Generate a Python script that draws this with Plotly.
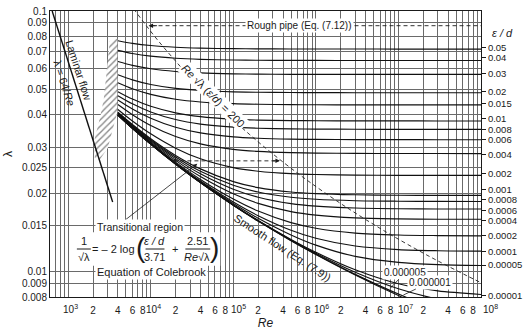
import math
import plotly.graph_objects as go

# ---------------- data ----------------
Re_grid = [4e3, 6e3, 1e4, 2e4, 4e4, 1e5, 2e5, 5e5, 1e6, 3e6, 1e7, 3e7, 1e8]

eps_labels = ["0.05", "0.04", "0.03", "0.02", "0.015", "0.01", "0.008", "0.006", "0.004",
              "0.002", "0.001", "0.0008", "0.0006", "0.0004", "0.0002", "0.0001",
              "0.00005", "0.00001", "0.000005", "0.000001", "smooth"]

lam_0_05 = [0.07690, 0.07516, 0.07371, 0.07260, 0.07204, 0.07169, 0.07158, 0.07151, 0.07148, 0.07147, 0.07146, 0.07146, 0.07146]
lam_0_04 = [0.07063, 0.06872, 0.06712, 0.06588, 0.06524, 0.06485, 0.06472, 0.06465, 0.06462, 0.06460, 0.06460, 0.06459, 0.06459]
lam_0_03 = [0.06402, 0.06187, 0.06005, 0.05861, 0.05787, 0.05742, 0.05726, 0.05717, 0.05714, 0.05712, 0.05711, 0.05711, 0.05711]
lam_0_02 = [0.05692, 0.05441, 0.05223, 0.05047, 0.04955, 0.04898, 0.04878, 0.04867, 0.04863, 0.04860, 0.04859, 0.04859, 0.04859]
lam_0_015 = [0.05311, 0.05034, 0.04789, 0.04587, 0.04479, 0.04411, 0.04388, 0.04374, 0.04369, 0.04366, 0.04365, 0.04365, 0.04365]
lam_0_01 = [0.04906, 0.04594, 0.04310, 0.04068, 0.03933, 0.03847, 0.03817, 0.03799, 0.03793, 0.03789, 0.03788, 0.03787, 0.03787]
lam_0_008 = [0.04736, 0.04406, 0.04101, 0.03835, 0.03684, 0.03586, 0.03552, 0.03531, 0.03524, 0.03519, 0.03517, 0.03517, 0.03517]
lam_0_006 = [0.04560, 0.04210, 0.03879, 0.03582, 0.03408, 0.03292, 0.03251, 0.03226, 0.03217, 0.03212, 0.03210, 0.03209, 0.03209]
lam_0_004 = [0.04378, 0.04003, 0.03639, 0.03300, 0.03093, 0.02948, 0.02895, 0.02862, 0.02851, 0.02843, 0.02840, 0.02840, 0.02839]
lam_0_002 = [0.04189, 0.03784, 0.03379, 0.02978, 0.02712, 0.02509, 0.02429, 0.02377, 0.02359, 0.02347, 0.02342, 0.02341, 0.02341]
lam_0_001 = [0.04091, 0.03669, 0.03238, 0.02794, 0.02480, 0.02217, 0.02102, 0.02022, 0.01993, 0.01973, 0.01965, 0.01963, 0.01963]
lam_0_0008 = [0.04071, 0.03646, 0.03209, 0.02755, 0.02428, 0.02147, 0.02021, 0.01930, 0.01896, 0.01872, 0.01864, 0.01861, 0.01860]
lam_0_0006 = [0.04051, 0.03622, 0.03179, 0.02715, 0.02374, 0.02072, 0.01931, 0.01825, 0.01784, 0.01755, 0.01744, 0.01741, 0.01740]
lam_0_0004 = [0.04031, 0.03598, 0.03149, 0.02674, 0.02318, 0.01990, 0.01829, 0.01700, 0.01648, 0.01609, 0.01595, 0.01590, 0.01589]
lam_0_0002 = [0.04011, 0.03574, 0.03119, 0.02632, 0.02259, 0.01900, 0.01709, 0.01543, 0.01468, 0.01407, 0.01383, 0.01376, 0.01373]
lam_0_0001 = [0.04001, 0.03562, 0.03104, 0.02610, 0.02228, 0.01851, 0.01641, 0.01443, 0.01344, 0.01255, 0.01216, 0.01204, 0.01199]
lam_0_00005 = [0.03996, 0.03556, 0.03096, 0.02599, 0.02213, 0.01826, 0.01604, 0.01384, 0.01265, 0.01145, 0.01086, 0.01065, 0.01057]
lam_0_00001 = [0.03992, 0.03552, 0.03090, 0.02590, 0.02200, 0.01804, 0.01572, 0.01330, 0.01187, 0.01017, 0.00899, 0.00844, 0.00818]
lam_0_000005 = [0.03991, 0.03551, 0.03089, 0.02589, 0.02199, 0.01802, 0.01568, 0.01323, 0.01176, 0.00995, 0.00860, 0.00786, 0.00747]
lam_0_000001 = [0.03991, 0.03550, 0.03088, 0.02589, 0.02197, 0.01800, 0.01565, 0.01317, 0.01167, 0.00977, 0.00821, 0.00718, 0.00643]
lam_smooth = [0.03991, 0.03550, 0.03088, 0.02588, 0.02197, 0.01799, 0.01564, 0.01316, 0.01165, 0.00972, 0.00810, 0.00695, 0.00594]

curve_lams = [lam_0_05, lam_0_04, lam_0_03, lam_0_02, lam_0_015, lam_0_01, lam_0_008, lam_0_006,
              lam_0_004, lam_0_002, lam_0_001, lam_0_0008, lam_0_0006, lam_0_0004, lam_0_0002,
              lam_0_0001, lam_0_00005, lam_0_00001, lam_0_000005, lam_0_000001, lam_smooth]

# right-hand eps/d labels and the lambda level at which each is printed
right_labels = eps_labels[:18]
right_label_lam = [0.0722, 0.0662, 0.0574, 0.0490, 0.0440, 0.0386, 0.0352, 0.03208, 0.02818,
                   0.02371, 0.02065, 0.01885, 0.01722, 0.01572, 0.01373, 0.01196, 0.01060, 0.00811]

# dashed boundary  Re*sqrt(lambda)*(eps/d) = 200
bound_Re = [4970, 6280, 8330, 11900, 19700, 27900, 45400, 63800, 103000, 156000, 230000, 412000,
            654000, 905000, 1.43e6, 2.13e6, 3.1e6, 5.46e6, 8.54e6, 1.83e7, 2.7e7, 3.9e7, 6.79e7, 1.05e8]
bound_lam = [0.11258, 0.10150, 0.09004, 0.07792, 0.06459, 0.05711, 0.04859, 0.04365, 0.03787, 0.03369,
             0.03034, 0.02615, 0.02340, 0.02171, 0.01962, 0.01802, 0.01669, 0.01493, 0.01372, 0.01197,
             0.01120, 0.01054, 0.00964, 0.00901]

# laminar line lambda = 64/Re
laminar_Re = [640, 3460]
laminar_lam = [0.1, 0.0185]

# hatched critical zone outline
hatch_Re = [3190, 3950, 3950, 3015, 2414, 2101, 2101, 2414, 2698, 2932]
hatch_lam = [0.0765, 0.0785, 0.0410, 0.0298, 0.0269, 0.0273, 0.0325, 0.0386, 0.0459, 0.0595]

# axis ticks
y_ticks = [0.008, 0.009, 0.01, 0.015, 0.02, 0.025, 0.03, 0.04, 0.05, 0.06, 0.07, 0.08, 0.09, 0.1]
y_tick_text = ["0.008", "0.009", "0.01", "0.015", "0.02", "0.025", "0.03", "0.04", "0.05",
               "0.06", "0.07", "0.08", "0.09", "0.1"]
x_decades = [2, 3, 4, 5, 6, 7]
x_mults = [1, 2, 3, 4, 5, 6, 7, 8, 9]
x_labeled_mults = {2: "2", 4: "4", 6: "6", 8: "8"}
decade_labels = [3, 4, 5, 6, 7, 8]
decade_label_shift = [2, 3, 5, 6, 7, 9]   # px: the printed powers of ten sit right of their grid line

# ---------------- layout geometry ----------------
W, H = 527, 334
ML, MR, MT, MB = 50, 44, 5, 37
PW, PH = W - ML - MR, H - MT - MB
XR = [2.78, 8.0]
YR = [math.log10(0.008), -1.0]
FONT = "Liberation Sans, Arial, sans-serif"
INK = "#1a1a1a"
GRID = "#6a6a6a"

def px(x): return (x - ML) / PW
def py(y): return (H - MB - y) / PH

x_ticks, x_tick_text, x_minor = [], [], []
for d in x_decades:
    for m in x_mults:
        v = m * 10 ** d
        if not (10 ** XR[0] <= v <= 10 ** XR[1]):
            continue
        if d >= 3 and m in x_labeled_mults:
            x_ticks.append(v)
            x_tick_text.append(x_labeled_mults[m])
        else:
            x_minor.append(v)

fig = go.Figure()

# hatched zone
fig.add_trace(go.Scatter(x=hatch_Re + hatch_Re[:1], y=hatch_lam + hatch_lam[:1], mode="lines",
                         fill="toself", fillcolor="rgba(0,0,0,0)", line=dict(width=0),
                         fillpattern=dict(shape="/", fgcolor="#111", bgcolor="white",
                                          size=4.5, solidity=0.3),
                         hoverinfo="skip"))

for lam in curve_lams:
    fig.add_trace(go.Scatter(x=Re_grid, y=lam, mode="lines",
                             line=dict(color="#111", width=1.15, shape="spline", smoothing=0.8),
                             hoverinfo="skip"))

fig.add_trace(go.Scatter(x=bound_Re, y=bound_lam, mode="lines",
                         line=dict(color="#222", width=0.9, dash="4px,3px", shape="spline"),
                         hoverinfo="skip"))
fig.add_trace(go.Scatter(x=laminar_Re, y=laminar_lam, mode="lines",
                         line=dict(color="#111", width=1.4), hoverinfo="skip"))
fig.add_trace(go.Scatter(x=[1e4], y=[0.05], yaxis="y2", mode="markers",
                         marker=dict(opacity=0), hoverinfo="skip"))

shapes = []
annotations = []

def text(t, x, y, size=11, angle=0, bg=None, **kw):
    d = dict(text=t, x=px(x), y=py(y), xref="paper", yref="paper", showarrow=False,
             xanchor="center", yanchor="middle", textangle=angle,
             font=dict(family=FONT, size=size, color=INK))
    if bg:
        d.update(bgcolor=bg, borderpad=1)
    d.update(kw)
    annotations.append(d)

def arrow(tipx, tipy, dx, dy, head=2, width=0.8, t="", size=10, bg=None):
    d = dict(text=t, x=px(tipx), y=py(tipy), xref="paper", yref="paper", showarrow=True,
             ax=dx, ay=dy, axref="pixel", ayref="pixel", arrowhead=head, arrowsize=1,
             arrowwidth=width, arrowcolor=INK, font=dict(family=FONT, size=size, color=INK))
    if bg:
        d.update(bgcolor=bg, borderpad=1)
    annotations.append(d)

def hline(x0, x1, y, dash=None, width=1):
    shapes.append(dict(type="line", xref="paper", yref="paper", x0=px(x0), x1=px(x1),
                       y0=py(y), y1=py(y), layer="above",
                       line=dict(color=INK, width=width, dash=dash)))

# powers of ten on the Re axis (positioned through the x axis)
for d, sh in zip(decade_labels, decade_label_shift):
    annotations.append(dict(text=f"10<sup>{d}</sup>", x=d, xref="x", y=py(301.5), yref="paper",
                            xanchor="center", yanchor="top", xshift=sh, showarrow=False,
                            font=dict(family=FONT, size=10, color=INK)))

# white panel behind the Colebrook equation
shapes.append(dict(type="rect", xref="paper", yref="paper", x0=px(74), x1=px(221),
                   y0=py(265), y1=py(231), layer="above", fillcolor="white",
                   line=dict(width=0)))

# laminar labels
text("Laminar flow", 79, 65, size=11, angle=72)
text("λ = 64/<i>Re</i>", 64, 79, size=11, angle=72)

# rough pipe arrow
hline(152, 483, 20, dash="4px,3px", width=0.9)
arrow(149, 20, 10, 0, head=2, width=0.9)
text("Rough pipe (Eq. (7.12))", 301, 20, size=10, bg="white")

# boundary label
text("<i>Re</i> √λ (<i>ε/d</i>) = 200", 214, 92, size=11, angle=45, bg="white")

# transitional double arrow (dashed)
hline(174, 279, 158, dash="4px,3px", width=0.9)
arrow(172, 158, 9, 0, head=2, width=0.9)
arrow(281, 158, -9, 0, head=2, width=0.9)
arrow(198, 161, -77, 60, head=2, width=0.8)

# smooth flow label
text("Smooth flow (Eq. (7.9))", 284, 247, size=11, angle=33)

# Colebrook equation block
text("Transitional region", 140, 226, size=10.5, bg="white")
text("Equation of Colebrook", 152, 271, size=11, bg="white")
text("1", 84, 240, size=11)
hline(77, 91, 248, width=1)
text("√λ", 84, 256, size=11)
text("= – 2 log", 114, 248, size=11)
text("(", 141, 246, size=28)
text("<i>ε / d</i>", 155, 240, size=11)
hline(146, 165, 248, width=1)
text("3.71", 155, 256, size=11)
text("+", 176, 248, size=11)
text("2.51", 198, 240, size=11)
hline(186, 211, 248, width=1)
text("<i>Re</i>√λ", 198, 256, size=11)
text(")", 215, 246, size=28)

# tiny eps/d labels inside the chart
arrow(392, 288, 15, -16, head=0, width=0.8, t="0.000005", size=10, bg="white")
arrow(405, 295, 27, -13, head=0, width=0.8, t="0.000001", size=10, bg="white")

# header of right axis
text("<i>ε / d</i>", 505, 27, size=11)

fig.update_layout(
    width=W, height=H, margin=dict(l=ML, r=MR, t=MT, b=MB, pad=0),
    showlegend=False, plot_bgcolor="white", paper_bgcolor="white",
    font=dict(family=FONT, size=10, color=INK),
    shapes=shapes, annotations=annotations,
    xaxis=dict(type="log", range=XR, tickvals=x_ticks, ticktext=x_tick_text, tickangle=0,
               showgrid=True, gridcolor=GRID, gridwidth=0.8, zeroline=False,
               minor=dict(tickvals=x_minor, showgrid=True, gridcolor=GRID, gridwidth=0.8, ticks=""),
               showline=True, linecolor=INK, linewidth=1, mirror=True, ticks="",
               ticklabelstandoff=4, tickfont=dict(size=10, color=INK),
               title=dict(text="<i>Re</i>", font=dict(size=12, color=INK), standoff=3)),
    yaxis=dict(type="log", range=YR, tickvals=y_ticks, ticktext=y_tick_text,
               showgrid=True, gridcolor=GRID, gridwidth=0.8, zeroline=False,
               showline=True, linecolor=INK, linewidth=1, mirror=True, ticks="",
               tickfont=dict(size=10, color=INK),
               title=dict(text="λ", font=dict(size=12, color=INK), standoff=6)),
    yaxis2=dict(type="log", range=YR, overlaying="y", side="right", anchor="x",
                tickvals=right_label_lam, ticktext=right_labels, showgrid=False,
                zeroline=False, showline=False, ticks="outside", ticklen=4,
                tickcolor=INK, tickwidth=1, tickfont=dict(size=9.5, color=INK)),
)

fig.write_html("out.html")
